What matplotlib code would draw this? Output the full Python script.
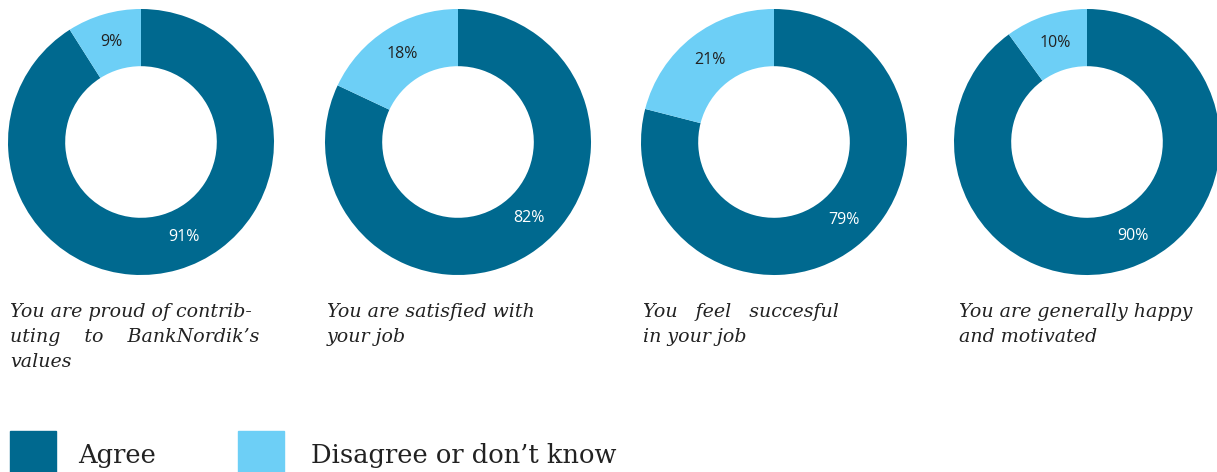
import matplotlib.pyplot as plt
import numpy as np

# survey data
questions = [
    "You are proud of contrib-\nuting    to    BankNordik\u2019s\nvalues",
    "You are satisfied with\nyour job",
    "You   feel   succesful\nin your job",
    "You are generally happy\nand motivated",
]
agree = [91, 82, 79, 90]
disagree = [9, 18, 21, 10]
legend_labels = ["Agree", "Disagree or don\u2019t know"]

DARK = "#00698f"
LIGHT = "#6dcff6"

W, H = 1217, 472
fig = plt.figure(figsize=(W / 100, H / 100), dpi=100)

# layout in pixels (centre x of each donut, caption left edge)
centers_x = [141, 458, 774, 1087]
caption_x = [10, 327, 643, 959]
cy, r_px = 142, 133
ring = 0.43
# where the agree labels sit (degrees, ccw from x axis)
agree_label_ang = [-66, -47, -48, -64]

for i, cx in enumerate(centers_x):
    ax = fig.add_axes([(cx - r_px) / W, (H - cy - r_px) / H, 2 * r_px / W, 2 * r_px / H])
    ax.pie([agree[i], disagree[i]], colors=[DARK, LIGHT], startangle=90,
           counterclock=False, radius=1,
           wedgeprops=dict(width=ring, edgecolor="none"))
    ax.set_xlim(-1, 1)
    ax.set_ylim(-1, 1)
    ax.set_aspect("equal")
    ax.axis("off")

    rl = 1 - ring / 2
    # disagree label at wedge mid-angle
    a_mid = np.deg2rad(90 + disagree[i] * 3.6 / 2)
    ax.text(rl * np.cos(a_mid), rl * np.sin(a_mid), f"{disagree[i]}%",
            ha="center", va="center", fontsize=11.5, color="#222222",
            family="Open Sans")
    a_ag = np.deg2rad(agree_label_ang[i])
    ax.text(rl * np.cos(a_ag), rl * np.sin(a_ag), f"{agree[i]}%",
            ha="center", va="center", fontsize=11.5, color="white",
            family="Open Sans")

    # caption under donut
    fig.text(caption_x[i] / W, 1 - 303 / H, questions[i], ha="left", va="top",
             fontsize=13.7, style="italic", family="DejaVu Serif",
             color="#222222", linespacing=1.5)

# legend
sq = 41
for x0, tx, lab, col in [(10, 78, legend_labels[0], DARK),
                         (238, 311, legend_labels[1], LIGHT)]:
    fig.patches.append(plt.Rectangle((x0 / W, 0), 46 / W, sq / H,
                                     transform=fig.transFigure, color=col))
    fig.text(tx / W, 17 / H, lab, ha="left", va="center", fontsize=18.5,
             family="DejaVu Serif", color="#222222")

fig.savefig("out.png", dpi=100)
